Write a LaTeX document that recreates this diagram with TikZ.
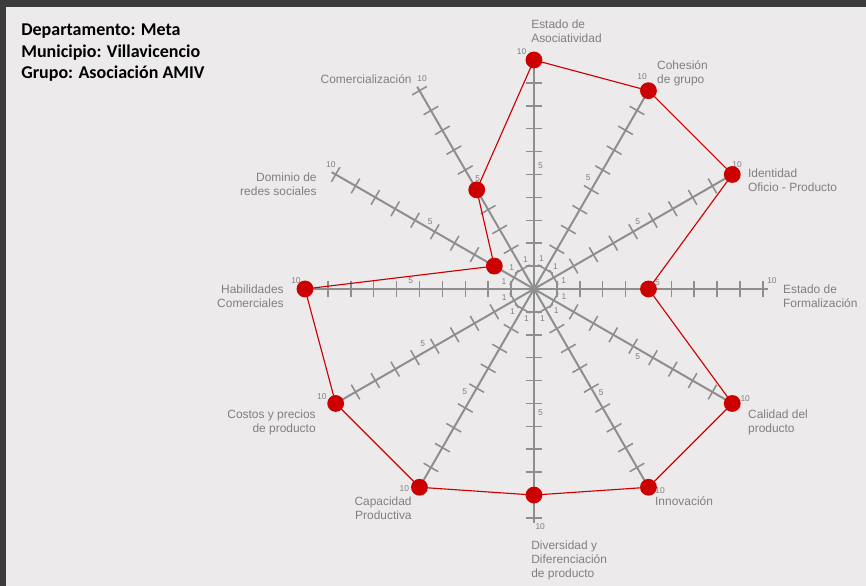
\documentclass[tikz,border=0pt]{standalone}
\usepackage{fontspec}
\setmainfont{Liberation Sans}
\newfontfamily\titulo{Carlito}
\definecolor{fondo}{HTML}{ECEAEB}
\definecolor{marco}{HTML}{3C3C3C}
\definecolor{gris}{HTML}{8E8E8E}
\definecolor{gristexto}{HTML}{808080}
\definecolor{rojo}{HTML}{CC0000}
\begin{document}
\begin{tikzpicture}[
      x=0.5725cm, y=0.5725cm,
      eje/.style={draw=gris, line width=1.4pt},
      marca/.style={
        font=\fontsize{6}{6}\selectfont,
        text=gristexto,
        inner sep=0pt
      },
      dimension/.style={
        font=\fontsize{8.5}{10}\selectfont,
        text=gristexto,
        inner sep=0pt
      },
      punto/.style={
        circle,
        fill=rojo,
        minimum size=0.42cm,
        inner sep=0pt
      },
      linea/.style={draw=rojo, line width=0.8pt}
    ]
    \useasboundingbox (-23.32,-12.97) rectangle (14.50,12.62);
    \fill[fondo] (-23.32,-12.97) rectangle (14.50,12.62);
    \fill[marco] (-23.32,12.31) rectangle (14.50,12.62);
    \fill[marco] (-23.32,-12.97) rectangle (-23.06,12.62);

    \foreach \a/\c/\d [count=\i] in {90/-3/3, 60/4/3, 30/3/1.5, 0/3/2,
        -30/-3/2.5, -60/3/2, -90/3/1.5, -120/-4/-3, -150/-4/-3,
        180/-4/-2, 150/-3/-1.5, 120/-3/-2}{
      \begin{scope}[rotate=\a]
        \draw[eje] (0,0) -- (10.2,0);
        \foreach \k in {1,...,10}
          \draw[eje, line width=1.1pt] (\k,-0.37) -- (\k,0.37);
        \node[marca] (uno\i) at (-14:1.35) {1};
        \node[marca] (cinco\i) at (\c:5.4) {5};
        \node[marca] (diez\i) at (\d:10.4) {10};
      \end{scope}
    }

    \node[punto] (asoc) at (90:10) {};
    \node[punto] (cohe) at (60:10) {};
    \node[punto] (iden) at (30:10) {};
    \node[punto] (form) at (0:5) {};
    \node[punto] (cali) at (-30:10) {};
    \node[punto] (inno) at (-60:10) {};
    \node[punto] (dive) at (-90:9) {};
    \node[punto] (capa) at (-120:10) {};
    \node[punto] (cost) at (-150:10) {};
    \node[punto] (habi) at (180:10) {};
    \node[punto] (domi) at (150:2) {};
    \node[punto] (come) at (120:5) {};
    \draw[linea] (asoc.center) -- (cohe.center) -- (iden.center) -- (form.center)
      -- (cali.center) -- (inno.center) -- (dive.center) -- (capa.center)
      -- (cost.center) -- (habi.center) -- (domi.center) -- (come.center) -- cycle;

    \node[dimension, anchor=north west, align=left] (lasoc) at (-0.13,11.75) {Estado de\\Asociatividad};
    \node[dimension, anchor=west, align=left] (lcohe) at (5.37,9.42) {Cohesión\\de grupo};
    \node[dimension, anchor=west, align=left] (liden) at (9.34,4.74) {Identidad\\Oficio - Producto};
    \node[dimension, anchor=west, align=left] (lform) at (10.87,-0.31) {Estado de\\Formalización};
    \node[dimension, anchor=north west, align=left] (lcali) at (9.34,-5.28) {Calidad del\\producto};
    \node[dimension, anchor=west, align=left] (linno) at (5.28,-9.26) {Innovación};
    \node[dimension, anchor=north west, align=left] (ldive) at (-0.13,-10.99) {Diversidad y\\Diferenciación\\de producto};
    \node[dimension, anchor=north east, align=right] (lcapa) at (-5.33,-9.08) {Capacidad\\Productiva};
    \node[dimension, anchor=east, align=right] (lcost) at (-9.52,-5.84) {Costos y precios\\de producto};
    \node[dimension, anchor=east, align=right] (lhabi) at (-10.92,-0.31) {Habilidades\\Comerciales};
    \node[dimension, anchor=east, align=right] (ldomi) at (-9.48,4.59) {Dominio de\\redes sociales};
    \node[dimension, anchor=east, align=right] (lcome) at (-5.33,9.17) {Comercialización};

    \node[anchor=north west, align=left, inner sep=0pt,
      font=\titulo\bfseries\fontsize{12.8}{15}\selectfont] (grupo) at (-22.40,11.57)
      {Departamento: Meta\\Municipio: Villavicencio\\Grupo: Asociación AMIV};
  \end{tikzpicture}
\end{document}
